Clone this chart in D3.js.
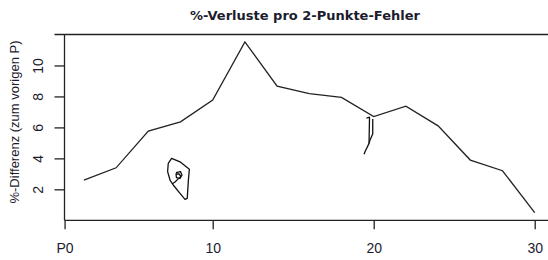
<!DOCTYPE html>
<html>
<head>
<meta charset="utf-8">
<script src="https://cdn.jsdelivr.net/npm/d3@7"></script>
<style>
  body { margin: 0; background: #fff; }
  text { fill: #1c1c2e; }
</style>
</head>
<body>
<div id="chart"></div>
<script>
// data (x = point index, y = % difference)
var pointX = [2, 4, 6, 8, 10, 12, 14, 16, 18, 20, 22, 24, 26, 28, 30];
var pctDiff = [2.60, 3.39, 5.76, 6.36, 7.76, 11.52, 8.66, 8.18, 7.94, 6.70, 7.37, 6.10, 3.89, 3.20, 0.49];

var xTicks = [0.8, 10, 20, 30];
var xTickLabels = ["P0", "10", "20", "30"];
var yTicks = [2, 4, 6, 8, 10];

// hand drawn marks on the chart (data coords)
var scribbleLoop = [[7.24,3.68],[7.45,4.00],[7.97,3.78],[8.55,3.29],[8.49,2.60],[8.42,1.42],[8.28,1.35],[7.97,1.74],[7.55,2.28],[7.35,2.60],[7.20,3.14],[7.24,3.68]];
var scribbleGlyph = [[7.72,3.08],[8.00,3.15],[8.09,2.92],[7.97,2.70],[7.75,2.76],[7.72,2.99],[7.91,2.99],[8.03,2.83],[7.84,2.66],[7.66,2.47],[7.47,2.34]];
var scribbleA = [[19.55,6.60],[19.74,6.66],[19.71,4.97],[19.46,4.43],[19.40,4.26]];
var scribbleB = [[19.94,6.54],[19.94,5.57],[19.77,5.18],[19.71,4.97]];

var width = 548, height = 260;
var plot = {left: 64.5, top: 34.5, bottom: 220.3};

var xScale = d3.scaleLinear().domain([10, 30]).range([212.7, 534.7]);
var yScale = d3.scaleLinear().domain([0, 12]).range([plot.bottom, plot.top]);

var svg = d3.select("#chart").append("svg")
  .attr("width", width)
  .attr("height", height);

// title
svg.append("text")
  .attr("x", 305)
  .attr("y", 20)
  .attr("text-anchor", "middle")
  .style("font-family", "'Comic Sans MS', 'DejaVu Sans', sans-serif")
  .style("font-weight", "bold")
  .style("font-size", "13px")
  .text("%-Verluste pro 2-Punkte-Fehler");

// top frame line
svg.append("line")
  .attr("x1", plot.left - 10).attr("x2", width)
  .attr("y1", plot.top).attr("y2", plot.top)
  .attr("stroke", "#222").attr("stroke-width", 1.3);

// y axis
var yAxis = svg.append("g")
  .attr("transform", "translate(" + plot.left + ",0)")
  .call(d3.axisLeft(yScale).tickValues(yTicks).tickSize(10).tickSizeOuter(0));
yAxis.select(".domain").attr("stroke", "#222").attr("stroke-width", 1.3)
  .attr("d", "M0," + plot.top + "V" + plot.bottom);
yAxis.selectAll(".tick line").attr("stroke", "#222").attr("stroke-width", 1.3);
yAxis.selectAll(".tick text")
  .attr("transform", "rotate(-90,-22,0)")
  .attr("x", -22).attr("dy", null).attr("y", 0)
  .attr("text-anchor", "middle")
  .style("font-family", "'Liberation Sans', Arial, sans-serif")
  .style("font-size", "14px");

// x axis
var xAxis = svg.append("g")
  .attr("transform", "translate(0," + plot.bottom + ")")
  .call(d3.axisBottom(xScale).tickValues(xTicks).tickSize(9).tickSizeOuter(0).tickPadding(14)
    .tickFormat(function(d, i) { return xTickLabels[i]; }));
xAxis.select(".domain").attr("stroke", "#222").attr("stroke-width", 1.3)
  .attr("d", "M" + plot.left + ",0H" + width);
xAxis.selectAll(".tick line").attr("stroke", "#222").attr("stroke-width", 1.3);
xAxis.selectAll(".tick text")
  .style("font-family", "'Liberation Sans', Arial, sans-serif")
  .style("font-size", "14px");

// y axis title
svg.append("text")
  .attr("transform", "translate(19,122) rotate(-90)")
  .attr("text-anchor", "middle")
  .style("font-family", "'Liberation Sans', Arial, sans-serif")
  .style("font-size", "13px")
  .text("%-Differenz (zum vorigen P)");

// the line
var line = d3.line()
  .x(function(d) { return xScale(d[0]); })
  .y(function(d) { return yScale(d[1]); });

svg.append("path")
  .datum(pointX.map(function(x, i) { return [x, pctDiff[i]]; }))
  .attr("fill", "none")
  .attr("stroke", "#222")
  .attr("stroke-width", 1.3)
  .attr("d", line);

// scribbles
[scribbleLoop, scribbleGlyph, scribbleA, scribbleB].forEach(function(s) {
  svg.append("path")
    .datum(s)
    .attr("fill", "none")
    .attr("stroke", "#111")
    .attr("stroke-width", 1.3)
    .attr("stroke-linejoin", "round")
    .attr("d", line);
});
</script>
</body>
</html>
